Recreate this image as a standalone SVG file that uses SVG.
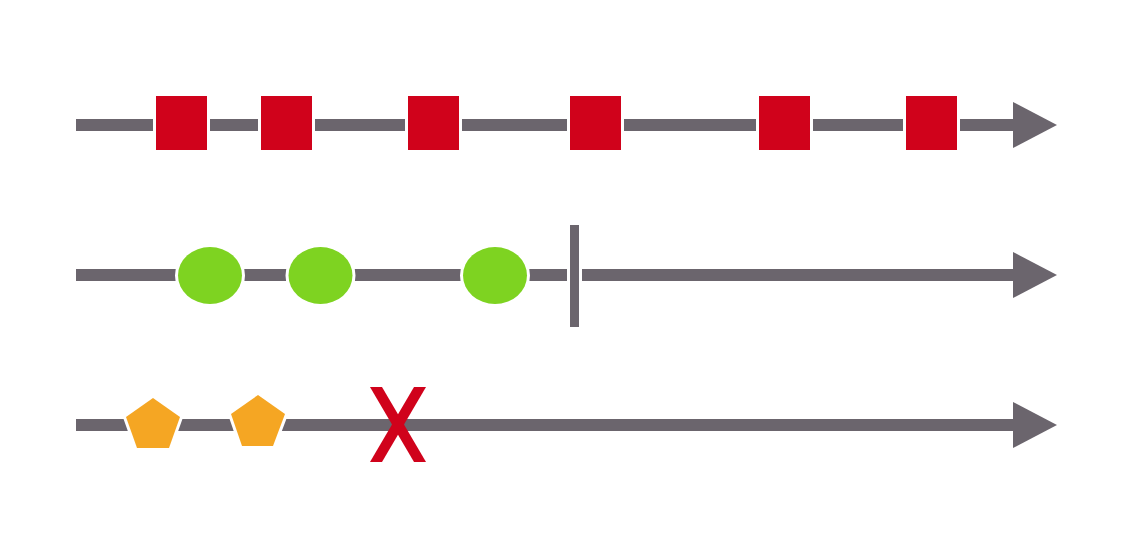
<svg xmlns="http://www.w3.org/2000/svg" width="1122" height="540" viewBox="0 0 1122 540">
<style>
.tl{stroke:#6b656d;stroke-width:12;fill:none}
.sq{fill:#d0021b;stroke:#fff;stroke-width:6;paint-order:stroke}
.ci{fill:#7ed321;stroke:#fff;stroke-width:6;paint-order:stroke}
.pg{fill:#f5a623;stroke:#fff;stroke-width:6;paint-order:stroke;stroke-linejoin:miter}
.bar{fill:#6b656d;stroke:#fff;stroke-width:6;paint-order:stroke}
.x{fill:#d0021b}
</style>
<defs>
<marker id="ah" markerUnits="userSpaceOnUse" viewBox="0 0 44 46" refX="1" refY="23" markerWidth="44" markerHeight="46" orient="auto">
<path d="M0,0 L44,23 L0,46 Z" fill="#6b656d"/>
</marker>
</defs>
<rect width="1122" height="540" fill="#fff"/>
<g id="connectors">
<line class="tl" x1="76" y1="125" x2="1014" y2="125" marker-end="url(#ah)"/>
<line class="tl" x1="76" y1="275" x2="1014" y2="275" marker-end="url(#ah)"/>
<line class="tl" x1="76" y1="425" x2="1014" y2="425" marker-end="url(#ah)"/>
</g>
<g id="s1"><rect class="sq" x="156" y="96" width="51" height="54"/></g>
<g id="s2"><rect class="sq" x="261" y="96" width="51" height="54"/></g>
<g id="s3"><rect class="sq" x="408" y="96" width="51" height="54"/></g>
<g id="s4"><rect class="sq" x="570" y="96" width="51" height="54"/></g>
<g id="s5"><rect class="sq" x="759" y="96" width="51" height="54"/></g>
<g id="s6"><rect class="sq" x="906" y="96" width="51" height="54"/></g>
<g id="c1"><ellipse class="ci" cx="210" cy="275.5" rx="32" ry="28.5"/></g>
<g id="c2"><ellipse class="ci" cx="320.5" cy="275.5" rx="32" ry="28.5"/></g>
<g id="c3"><ellipse class="ci" cx="495" cy="275.5" rx="32" ry="28.5"/></g>
<g id="complete"><rect class="bar" x="570" y="225" width="9" height="102"/></g>
<g id="p1"><polygon class="pg" points="153,398 180,417 169,448 137,448 126,417"/></g>
<g id="p2"><polygon class="pg" points="258,395 285,414 273,446 242,446 231,414"/></g>
<g id="error">
<polygon class="x" points="370,387 382,387 426,462 414,462"/>
<polygon class="x" points="414,387 426,387 382,462 370,462"/>
</g>
</svg>
